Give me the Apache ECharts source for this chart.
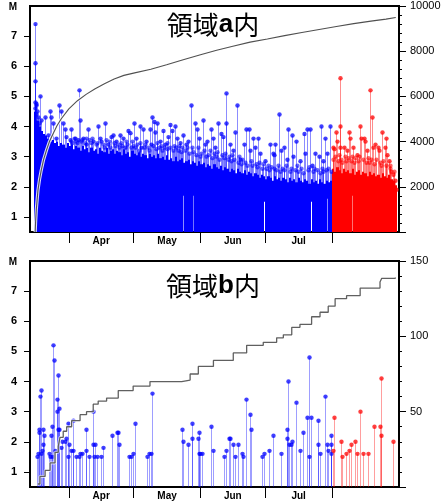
<!DOCTYPE html>
<html><head><meta charset="utf-8">
<script src="https://cdn.jsdelivr.net/npm/echarts@6/dist/echarts.min.js"></script>
<style>html,body{margin:0;padding:0;background:#fff}#c{width:446px;height:503px}</style>
</head><body><div id="c"></div><script>
// x values are days counted from Mar 14, 00:00
const monthNames = ['Apr', 'May', 'Jun', 'Jul'];
const monthStartDays = [18, 48, 79, 109, 140]; // Apr 1, May 1, Jun 1, Jul 1, Aug 1
const redFromDay = 140; // events from Aug 1 drawn red
const magTicks = [1, 2, 3, 4, 5, 6, 7];

// ---- Region a ----
// saturated (solid) part of the stems, one level per day, starting at day 2
const denseStartA = 2;
const denseLevelsA = [
  4.5,4.2,4.0,3.85,3.75,3.7,3.6,3.5,3.55,3.45,3.5,3.35,3.45,3.4,3.3,3.45,3.35,3.4,
  3.25,3.35,3.3,3.2,3.35,3.25,3.3,3.15,3.3,3.2,3.25,3.1,3.3,3.2,3.15,3.3,3.1,3.2,3.25,3.1,
  3.2,3.15,3.05,3.25,3.1,3.15,3.0,3.2,3.1,3.05,3.15,3.0,3.1,3.05,2.95,3.1,3.0,3.05,2.95,3.1,
  2.95,3.0,2.9,3.05,2.9,2.95,2.85,3.0,2.85,2.9,2.95,2.8,2.85,2.9,2.75,2.85,2.8,2.7,2.85,2.75,
  2.8,2.65,2.75,2.7,2.6,2.75,2.65,2.6,2.7,2.55,2.65,2.6,2.5,2.6,2.55,2.45,2.6,2.5,2.45,2.55,
  2.4,2.5,2.45,2.35,2.45,2.4,2.3,2.4,2.35,2.25,2.35,2.3,2.2,2.35,2.25,2.3,2.2,2.3,2.25,2.15,
  2.3,2.2,2.25,2.15,2.3,2.2,2.15,2.25,2.2,2.1,2.25,2.15,2.2,2.1,2.25,2.15,2.1,2.2,2.15,2.2,
  2.6,2.5,2.65,2.55,2.45,2.6,2.5,2.55,2.45,2.6,2.4,2.5,2.55,2.4,2.5,2.45,2.35,2.5,2.4,2.45,
  2.35,2.4,2.3,2.45,2.35,2.3,2.4,2.25,2.2,2.05
];
// short breaks in the small-event record: [day, magnitude up to which the column is empty]
const gapsA = [[71.0,1.7],[75.7,1.7],[108.6,1.5],[130.2,1.5],[137.6,1.6],[149.4,1.7]];
// larger individual events: [day, M]
const eventsA = [
  [2.2,7.4],[2.25,6.1],[2.3,5.5],[2.35,4.8],[2.5,4.6],[2.7,4.75],[3.0,4.7],[3.2,4.5],[2.6,4.4],[3.5,4.3],[4.5,5.0],
  [4.0,4.1],[5.3,4.2],[6.0,3.6],[6.8,4.3],[8.3,3.7],[9.1,4.5],[9.9,4.3],[10.5,4.1],[12.2,3.6],[13.4,4.7],[14.5,4.5],
  [15.2,4.1],[16.0,3.9],[16.8,3.65],[18.4,3.55],[19.0,3.9],[20.7,3.6],[22.2,3.55],[22.6,5.2],[23.0,4.2],[24.6,3.6],
  [26.1,3.4],[26.9,3.9],[29.2,3.5],[31.5,4.0],[32.3,3.6],[33.0,3.5],[34.6,4.1],[36.1,3.4],[37.7,3.65],[38.5,3.7],
  [40.0,3.5],[41.5,3.7],[43.1,3.6],[43.9,3.3],[45.4,3.85],[46.2,3.78],[48.2,4.1],[49.3,3.6],[50.8,4.0],[51.6,3.3],
  [52.4,3.9],[53.9,3.5],[55.4,3.9],[56.2,3.4],[56.4,4.3],[57.5,4.15],[57.9,3.8],[59.0,4.1],[60.2,3.5],[61.8,3.85],
  [62.6,3.4],[64.1,3.65],[64.9,4.05],[65.6,3.85],[67.1,4.0],[68.0,3.6],[69.5,3.45],[71.0,3.7],[72.3,3.4],[73.4,3.5],
  [74.5,4.7],[76.4,4.1],[77.5,3.9],[78.5,3.6],[80.0,4.2],[81.1,3.4],[82.2,3.5],[83.7,3.9],[84.9,3.6],[85.7,3.3],
  [87.0,4.1],[88.3,3.75],[89.3,3.65],[90.8,5.1],[91.0,4.1],[92.7,3.4],[94.2,3.2],[95.0,3.8],[95.8,4.7],[97.3,2.9],
  [99.3,3.4],[100.1,3.9],[101.3,3.9],[101.9,3.2],[103.5,3.6],[104.3,3.3],[105.8,3.6],[106.6,3.1],[108.9,2.85],
  [111.0,3.4],[112.4,3.1],[112.9,3.05],[113.7,3.4],[115.6,4.4],[116.4,3.2],[117.5,3.3],[119.1,2.9],[119.6,3.9],
  [121.4,3.7],[122.1,3.0],[123.4,3.5],[125.2,2.85],[126.8,3.75],[127.5,3.1],[128.3,3.9],[129.9,3.9],[130.6,2.7],
  [132.2,3.1],[133.7,3.0],[134.8,4.0],[136.0,2.85],[136.8,3.6],[137.6,3.1],[138.9,4.0],
  [140.2,3.3],[140.7,3.25],[141.8,3.8],[142.2,3.5],[143.5,5.6],[143.6,4.0],[143.8,3.3],[145.3,3.3],[146.9,3.2],
  [147.9,3.8],[148.3,3.6],[149.9,3.3],[151.5,3.05],[153.0,4.0],[153.5,3.6],[154.6,3.6],[155.3,3.5],[156.1,3.2],
  [157.7,5.2],[158.7,4.3],[159.0,3.3],[160.0,3.4],[161.3,3.3],[161.8,3.2],[163.1,3.8],[164.3,3.3],[165.0,3.6],
  [165.5,3.05],[166.2,2.85],[167.4,2.5],[168.0,2.4],[169.0,2.2],[169.6,1.9]
];
// medium events just above the solid part: [day, M]
const midEventsA = [
  [18.9,3.5],[19.6,3.45],[20.3,3.6],[21.2,3.5],[21.8,3.45],[23.5,3.5],[24.1,3.55],[25.3,3.45],[25.8,3.6],[27.4,3.55],
  [28.2,3.45],[28.8,3.6],[30.5,3.4],[31.1,3.45],[33.6,3.4],[34.2,3.3],[35.3,3.55],[36.6,3.5],[37.2,3.3],[38.9,3.45],
  [39.6,3.35],[40.6,3.4],[41.1,3.3],[42.3,3.45],[42.8,3.35],[44.4,3.5],[45.0,3.4],[46.7,3.3],[47.3,3.5],[47.8,3.35],
  [48.7,3.3],[49.8,3.4],[50.3,3.2],[51.2,3.45],[52.9,3.3],[53.4,3.4],[54.6,3.3],[55.0,3.2],[57.0,3.35],[58.4,3.25],
  [58.8,3.45],[59.6,3.3],[60.8,3.35],[61.3,3.2],[62.1,3.3],[63.3,3.25],[63.7,3.45],[65.1,3.3],[66.2,3.2],[66.7,3.35],
  [67.6,3.3],[68.6,3.2],[69.0,3.35],[70.2,3.15],[70.6,3.3],[71.6,3.2],[72.8,3.3],[73.9,3.1],[75.2,3.3],[75.7,3.15],
  [76.9,3.05],[77.9,3.3],[79.0,3.0],[79.4,3.1],[80.6,3.2],[81.6,3.0],[82.7,3.05],[83.2,3.2],[84.3,2.95],[85.2,3.1],
  [86.2,3.0],[86.6,3.15],[87.6,2.9],[88.8,3.05],[89.8,2.95],[90.3,3.1],[91.6,2.9],[92.2,3.0],[93.3,2.85],[93.8,3.05],
  [94.6,2.9],[96.3,2.8],[96.8,3.0],[97.8,2.75],[98.4,2.9],[99.8,2.8],[100.6,2.7],[102.4,2.85],[102.9,2.7],[104.8,2.75],
  [105.3,2.65],[106.2,2.8],[107.4,2.6],[107.9,2.75],[109.4,2.6],[110.3,2.7],[110.7,2.55],[111.5,2.65],[113.2,2.6],
  [114.2,2.55],[114.8,2.7],[116.0,2.5],[116.8,2.6],[117.9,2.55],[118.6,2.7],[120.4,2.5],[120.9,2.6],[122.6,2.55],
  [123.9,2.7],[124.4,2.5],[125.8,2.6],[126.3,2.45],[128.8,2.55],[129.3,2.65],[131.1,2.5],[131.6,2.6],[133.1,2.55],
  [134.2,2.45],[135.3,2.6],[135.7,2.5],[137.2,2.55],[138.3,2.6],[139.3,2.5],
  [140.5,2.9],[141.2,3.0],[142.6,2.85],[143.2,3.05],[144.2,2.9],[144.8,2.8],[145.8,3.0],[146.4,2.85],[147.3,2.95],
  [148.8,2.85],[149.4,3.0],[150.3,2.8],[150.8,2.95],[151.9,2.85],[152.4,3.0],[154.1,2.9],[155.8,2.8],[156.6,2.95],
  [157.2,2.8],[158.2,2.9],[159.6,2.75],[160.5,2.9],[162.2,2.8],[162.7,2.7],[163.6,2.85],[164.8,2.7],[166.6,2.6],
  [167.0,2.7],[168.6,2.5]
];
// cumulative number of events (right axis)
const cumDaysA = [2.4,2.6,2.9,3.3,3.7,4.4,5.2,6.3,7.6,9.0,10.7,12.5,14.5,18,22,26,30,34.5,39,43.5,48.5,56,63.3,71,79,86.5,94,102,110,118,126,134,142,150,158,165,169.5];
const cumA = [0,450,970,1420,1850,2320,2730,3200,3610,4000,4350,4700,5010,5450,5810,6090,6330,6560,6770,6930,7040,7200,7400,7620,7840,8040,8220,8400,8540,8690,8830,8960,9090,9220,9330,9420,9490];

// ---- Region b ----
const eventsB = [
  [3.4,1.5],[3.6,1.6],[4.2,2.4],[4.2,2.3],[4.6,3.5],[4.9,3.7],[4.9,1.6],[5.4,1.7],[5.9,2.4],[6.2,1.9],[6.6,2.2],
  [8.96,1.6],[9.3,1.5],[9.7,2.2],[10.0,1.5],[10.35,2.5],[10.5,5.2],[11.1,4.7],[11.6,1.7],[12.4,3.4],[12.7,3.0],
  [12.8,4.2],[13.1,2.4],[13.4,3.1],[13.6,2.4],[14.2,1.8],[14.6,2.0],[16.2,2.0],[16.7,2.1],[17.4,2.6],[17.7,1.5],
  [18.1,1.9],[18.8,1.7],[19.7,1.7],[19.8,2.7],[21.3,1.5],[22.9,1.5],[23.2,1.6],[23.9,1.6],[25.8,2.4],[25.8,1.7],
  [27.5,1.5],[29.0,3.0],[29.0,1.9],[30.1,1.9],[29.8,1.5],[30.9,1.5],[32.9,1.5],[34.0,1.8],[38.2,2.2],[40.2,2.3],
  [40.6,2.3],[41.4,1.9],[46.0,1.5],[46.8,1.5],[47.9,1.6],[48.7,2.6],[54.4,1.5],[55.3,1.6],[55.9,1.6],[56.4,3.6],
  [70.3,2.4],[70.7,2.0],[73.0,1.9],[74.9,2.6],[74.9,2.1],[78.0,2.1],[78.3,2.3],[78.3,1.6],[78.8,1.6],[79.5,1.6],
  [83.9,2.5],[84.6,1.7],[90.1,1.5],[90.8,1.7],[92.4,2.1],[92.7,2.1],[93.9,1.9],[95.0,1.5],[96.2,1.9],[98.4,1.6],
  [98.8,1.5],[99.9,3.4],[101.9,2.9],[102.2,2.4],[107.5,1.5],[108.4,1.6],[110.7,1.7],[112.7,2.2],[116.2,1.6],
  [119.2,2.4],[119.6,4.0],[119.2,2.1],[120.2,1.9],[120.8,1.9],[121.5,2.0],[123.1,3.3],[125.1,1.7],[126.6,2.3],
  [128.5,2.8],[129.4,4.8],[129.4,1.5],[130.1,2.8],[133.6,2.7],[133.3,1.9],[134.3,1.6],[136.7,3.5],[137.5,1.9],[137.9,1.7],
  [139.4,2.2],[139.4,1.9],[139.3,1.6],[140.2,1.7],[141.0,2.8],[143.9,2.0],[144.8,1.5],[146.4,1.6],[147.9,1.7],
  [148.6,1.9],[150.6,2.0],[151.7,1.6],[152.9,3.0],[154.4,1.6],[156.7,1.6],[159.4,2.5],[162.2,2.5],[162.5,4.1],
  [162.5,2.2],[168.4,2.0]
];
const cumDaysB = [3.6,4.6,7,9.3,11.6,13.1,13.9,15.4,17,19.3,23.2,26.2,29.3,31.6,35.5,40.9,47.8,55.6,70.3,74.2,78,85,94.2,100.4,108.1,114.3,117.4,121.3,125.1,130.5,134.4,138.2,141.4,146.7,153,162.2,163,169.3];
const cumB = [2,7,11,16,23,27,33,37,40,44,48,50,55,57,59,64,67,70,71,75,80,84,89,94,96,99,101,106,108,113,116,120,125,127,132,136,138.5,139];

// ---------------------------------------------------------------
const BLUE = '#0000ff', RED = '#ff0000';
const labelPos = monthNames.map((m, i) => (monthStartDays[i] + monthStartDays[i + 1]) / 2);
const FONT = 'Liberation Sans, Arial, sans-serif';
const denseA = denseLevelsA.map((lv, i) => [denseStartA + i, denseStartA + i + 1, lv]);

function xAxisFor(gi) {
  return {
    type: 'value', gridIndex: gi, min: 0, max: 171,
    axisLine: { show: false }, splitLine: { show: false },
    axisTick: { show: true, customValues: monthStartDays, length: 11, lineStyle: { color: '#000', width: 1 } },
    axisLabel: {
      show: true, customValues: labelPos, margin: 4,
      formatter: v => { const i = labelPos.findIndex(p => Math.abs(p - v) < 1e-6); return i >= 0 ? monthNames[i] : ''; },
      color: '#000', fontSize: 10, fontWeight: 'bold', fontFamily: FONT
    }
  };
}
function magAxis(gi) {
  return {
    type: 'value', gridIndex: gi, position: 'left', min: 0.5, max: 8,
    axisLine: { show: false }, splitLine: { show: false },
    axisTick: { show: true, customValues: magTicks, length: 6, lineStyle: { color: '#000' } },
    axisLabel: { customValues: magTicks, margin: 13, color: '#000', fontSize: 11, fontWeight: 'bold', fontFamily: FONT }
  };
}
function cumAxis(gi, max, interval) {
  return {
    type: 'value', gridIndex: gi, position: 'right', min: 0, max: max, interval: interval,
    axisLine: { show: false }, splitLine: { show: false },
    axisTick: { show: true, length: 7, lineStyle: { color: '#000' } },
    minorTick: { show: true, splitNumber: 5, length: 3, lineStyle: { color: '#000' } },
    axisLabel: { margin: 11, formatter: v => v === 0 ? '' : String(v), color: '#000', fontSize: 11, fontFamily: FONT }
  };
}
function denseSeries(data, gaps, xi, yi) {
  return {
    type: 'custom', xAxisIndex: xi, yAxisIndex: yi, data: data, z: 2, silent: true,
    encode: { x: [0, 1], y: 2 },
    renderItem: (p, api) => {
      const d0 = api.value(0), d1 = api.value(1), lv = api.value(2);
      const a = api.coord([d0, 0.5]), b = api.coord([d1, lv]);
      const x0 = Math.round(a[0]), x1 = Math.round(b[0]);
      const fill = d0 >= redFromDay ? RED : BLUE;
      const g = gaps.find(gp => gp[0] >= d0 && gp[0] < d1);
      if (!g) {
        return { type: 'rect', shape: { x: x0, y: b[1], width: x1 - x0, height: a[1] - b[1] }, style: { fill } };
      }
      const gx = Math.min(Math.max(Math.round(api.coord([g[0], 0.5])[0]), x0), x1 - 1);
      const gy = api.coord([g[0], g[1]])[1];
      return { type: 'group', children: [
        { type: 'rect', shape: { x: x0, y: b[1], width: Math.max(0, gx - x0), height: a[1] - b[1] }, style: { fill } },
        { type: 'rect', shape: { x: gx + 1, y: b[1], width: Math.max(0, x1 - gx - 1), height: a[1] - b[1] }, style: { fill } },
        { type: 'rect', shape: { x: gx, y: b[1], width: 1, height: gy - b[1] }, style: { fill } }
      ] };
    }
  };
}
function stemSeries(data, xi, yi, stemOpacity, markOpacity) {
  return {
    type: 'custom', xAxisIndex: xi, yAxisIndex: yi, data: data, z: 3, silent: true,
    encode: { x: 0, y: 1 },
    renderItem: (p, api) => {
      const d = api.value(0), m = api.value(1);
      const top = api.coord([d, m]), base = api.coord([d, 0.5]);
      const c = d >= redFromDay ? RED : BLUE;
      const x = Math.round(top[0]) + 0.5;
      return { type: 'group', children: [
        { type: 'line', shape: { x1: x, y1: base[1], x2: x, y2: top[1] }, style: { stroke: c, lineWidth: 1, opacity: stemOpacity } },
        { type: 'circle', shape: { cx: x, cy: top[1], r: 2.2 }, style: { fill: c, opacity: markOpacity } }
      ] };
    }
  };
}
const zip = (xs, ys) => xs.map((x, i) => [x, ys[i]]);

const chart = echarts.init(document.getElementById('c'), null, { renderer: 'canvas' });
chart.setOption({
  animation: false,
  backgroundColor: '#fff',
  grid: [
    { left: 30, top: 6, width: 369, height: 226, show: true, borderColor: '#000', borderWidth: 2, backgroundColor: 'transparent' },
    { left: 30, top: 261, width: 369, height: 226, show: true, borderColor: '#000', borderWidth: 2, backgroundColor: 'transparent' }
  ],
  xAxis: [xAxisFor(0), xAxisFor(1)],
  yAxis: [magAxis(0), cumAxis(0, 10000, 2000), magAxis(1), cumAxis(1, 150, 50)],
  series: [
    denseSeries(denseA, gapsA, 0, 0),
    stemSeries(midEventsA, 0, 0, 0.55, 0.6),
    stemSeries(eventsA, 0, 0, 0.45, 0.75),
    { type: 'line', xAxisIndex: 0, yAxisIndex: 1, data: zip(cumDaysA, cumA), showSymbol: false,
      lineStyle: { color: '#ffffff', width: 3.2, opacity: 0.85 }, z: 4, silent: true },
    { type: 'line', xAxisIndex: 0, yAxisIndex: 1, data: zip(cumDaysA, cumA), showSymbol: false,
      lineStyle: { color: '#505050', width: 1.1 }, z: 5, silent: true },
    stemSeries(eventsB, 1, 2, 0.38, 0.75),
    { type: 'line', xAxisIndex: 1, yAxisIndex: 3, data: zip(cumDaysB, cumB), showSymbol: false, step: 'end',
      lineStyle: { color: '#ffffff', width: 3, opacity: 0.7 }, z: 4, silent: true },
    { type: 'line', xAxisIndex: 1, yAxisIndex: 3, data: zip(cumDaysB, cumB), showSymbol: false, step: 'end',
      lineStyle: { color: '#606060', width: 1.3 }, z: 5, silent: true }
  ],
  graphic: [
    { type: 'text', x: 13, y: 7, style: { text: 'M', font: 'bold 10px ' + FONT, fill: '#000', align: 'center', verticalAlign: 'middle', textAlign: 'center', textVerticalAlign: 'middle' } },
    { type: 'text', x: 13, y: 262, style: { text: 'M', font: 'bold 10px ' + FONT, fill: '#000', align: 'center', verticalAlign: 'middle', textAlign: 'center', textVerticalAlign: 'middle' } },
    { type: 'text', x: 213, y: 25, z: 10, style: { text: '{k|領域}{a|a}{k|内}', align: 'center', verticalAlign: 'middle', textAlign: 'center', textVerticalAlign: 'middle',
      rich: { k: { fontFamily: 'Noto Sans CJK JP', fontSize: 26, fill: '#000', color: '#000' }, a: { fontFamily: FONT, fontSize: 26, fontWeight: 'bold', fill: '#000', color: '#000' } } } },
    { type: 'text', x: 213, y: 286, z: 10, style: { text: '{k|領域}{a|b}{k|内}', align: 'center', verticalAlign: 'middle', textAlign: 'center', textVerticalAlign: 'middle',
      rich: { k: { fontFamily: 'Noto Sans CJK JP', fontSize: 26, fill: '#000', color: '#000' }, a: { fontFamily: FONT, fontSize: 26, fontWeight: 'bold', fill: '#000', color: '#000' } } } }
  ]
});
</script></body></html>
